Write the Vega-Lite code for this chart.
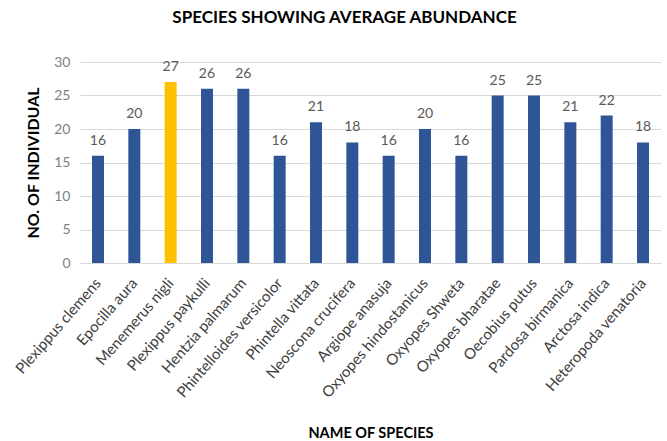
{
  "$schema": "https://vega.github.io/schema/vega-lite/v6.json",
  "autosize": {"type": "none"},
  "width": 581,
  "height": 201,
  "padding": {"left": 80, "top": 62, "right": 6, "bottom": 178},
  "background": "white",
  "title": {
    "text": "SPECIES SHOWING AVERAGE ABUNDANCE",
    "font": "Lato",
    "fontSize": 17,
    "fontWeight": "bold",
    "color": "#000000",
    "anchor": "middle",
    "dx": -26,
    "offset": 28
  },
  "data": {
    "values": [
      {"species": "Plexippus clemens", "count": 16, "hl": "n"},
      {"species": "Epocilla aura", "count": 20, "hl": "n"},
      {"species": "Menemerus nigli", "count": 27, "hl": "y"},
      {"species": "Plexippus paykulli", "count": 26, "hl": "n"},
      {"species": "Hentzia palmarum", "count": 26, "hl": "n"},
      {"species": "Phintelloides versicolor", "count": 16, "hl": "n"},
      {"species": "Phintella vittata", "count": 21, "hl": "n"},
      {"species": "Neoscona crucifera", "count": 18, "hl": "n"},
      {"species": "Argiope anasuja", "count": 16, "hl": "n"},
      {"species": "Oxyopes hindostanicus", "count": 20, "hl": "n"},
      {"species": "Oxyopes Shweta", "count": 16, "hl": "n"},
      {"species": "Oxyopes bharatae", "count": 25, "hl": "n"},
      {"species": "Oecobius putus", "count": 25, "hl": "n"},
      {"species": "Pardosa birmanica", "count": 21, "hl": "n"},
      {"species": "Arctosa indica", "count": 22, "hl": "n"},
      {"species": "Heteropoda venatoria", "count": 18, "hl": "n"}
    ]
  },
  "encoding": {
    "x": {
      "field": "species",
      "type": "nominal",
      "sort": null,
      "scale": {"paddingInner": 0.67, "paddingOuter": 0.33},
      "axis": {
        "title": "NAME OF SPECIES",
        "titleFont": "Lato",
        "titleFontSize": 14.5,
        "titleFontWeight": "bold",
        "titleColor": "#000000",
        "titlePadding": 26,
        "labelAngle": -49,
        "labelFont": "Lato",
        "labelFontSize": 15,
        "labelColor": "#404040",
        "labelPadding": 17,
        "ticks": false,
        "domainColor": "#D9D9D9",
        "labelLimit": 300
      }
    },
    "y": {
      "field": "count",
      "type": "quantitative",
      "scale": {"domain": [0, 30]},
      "axis": {
        "title": "NO. OF INDIVIDUAL",
        "titleFont": "Lato",
        "titleFontSize": 16,
        "titleFontWeight": "bold",
        "titleColor": "#000000",
        "titlePadding": 12,
        "values": [0, 5, 10, 15, 20, 25, 30],
        "labelFont": "Lato",
        "labelFontSize": 14,
        "labelColor": "#7F7F7F",
        "labelPadding": 10,
        "ticks": false,
        "domain": false,
        "gridColor": "#D9D9D9"
      }
    }
  },
  "layer": [
    {
      "mark": {"type": "bar"},
      "encoding": {
        "color": {
          "field": "hl",
          "type": "nominal",
          "scale": {"domain": ["n", "y"], "range": ["#2F5597", "#FFC000"]},
          "legend": null
        }
      }
    },
    {
      "mark": {"type": "text", "dy": -15, "font": "Lato", "fontSize": 14, "color": "#595959"},
      "encoding": {"text": {"field": "count", "type": "quantitative"}}
    }
  ],
  "config": {"view": {"stroke": null}}
}
